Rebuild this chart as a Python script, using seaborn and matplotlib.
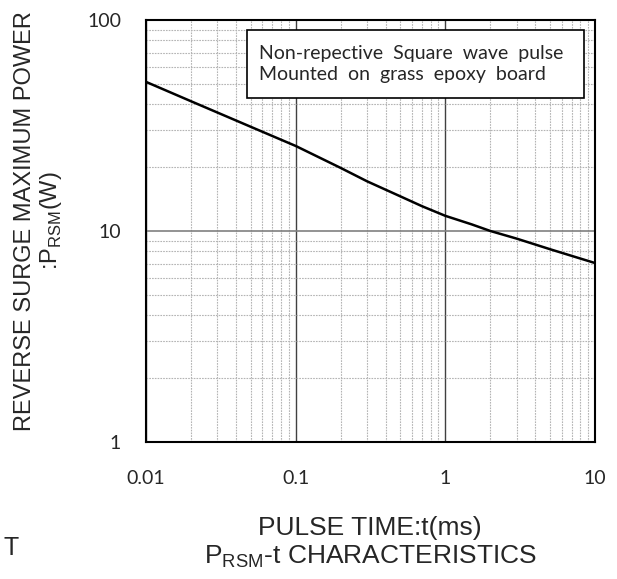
import pandas as pd
import matplotlib.pyplot as plt
import seaborn as sns
import numpy as np
from matplotlib.ticker import LogLocator, NullFormatter, FixedLocator, FixedFormatter
from matplotlib.patches import Rectangle

# curve
pulse_time = [0.01, 0.02, 0.05, 0.1, 0.2, 0.3, 0.5, 0.7, 1, 1.5, 2, 3, 5, 10]
power = [50.9, 41.2, 31.2, 25.3, 19.9, 17.2, 14.6, 13.1, 11.8, 10.75, 10.0, 9.2, 8.2, 7.05]

x_ticks = [0.01, 0.1, 1, 10]
x_labels = ["0.01", "0.1", "1", "10"]
y_ticks = [1, 10, 100]
y_labels = ["1", "10", "100"]

df = pd.DataFrame({"t": pulse_time, "P": power})

sns.set_style("white")
plt.rcParams["font.family"] = ["Liberation Sans", "DejaVu Sans"]

fig = plt.figure(figsize=(6.17, 5.79), dpi=100)
ax = fig.add_axes([146 / 617, 1 - 442 / 579, 449 / 617, 422 / 579])

ax.set_xscale("log")
ax.set_yscale("log")
ax.set_xlim(0.01, 10)
ax.set_ylim(1, 100)

#grid: dotted minor, solid major
ax.xaxis.set_minor_locator(LogLocator(base=10, subs=np.arange(2, 10)))
ax.yaxis.set_minor_locator(LogLocator(base=10, subs=np.arange(2, 10)))
ax.xaxis.set_minor_formatter(NullFormatter())
ax.yaxis.set_minor_formatter(NullFormatter())
ax.grid(which="minor", color="#b4b4b4", linestyle=(0, (1.5, 1)), linewidth=0.8)
ax.grid(which="major", axis="x", color="#404040", linestyle="-", linewidth=1.0)
ax.grid(which="major", axis="y", color="#808080", linestyle="-", linewidth=1.2)
ax.set_axisbelow(True)

sns.lineplot(data=df, x="t", y="P", ax=ax, color="black", linewidth=1.8, zorder=5)
ax.set_xlabel("")
ax.set_ylabel("")

ax.xaxis.set_major_locator(FixedLocator(x_ticks))
ax.xaxis.set_major_formatter(FixedFormatter(x_labels))
ax.yaxis.set_major_locator(FixedLocator(y_ticks))
ax.yaxis.set_major_formatter(FixedFormatter(y_labels))
ax.tick_params(which="both", length=0)
ax.tick_params(axis="x", labelsize=14, pad=20)
ax.tick_params(axis="y", labelsize=14, pad=18)
for lab in ax.get_xticklabels() + ax.get_yticklabels():
    lab.set_family(["Lato", "DejaVu Sans"])

for s in ax.spines.values():
    s.set_color("black")
    s.set_linewidth(1.5)

# axis titles
fig.text(370 / 617, 1 - 543 / 579, "PULSE TIME:t(ms)\nP$_{\\mathregular{RSM}}$-t CHARACTERISTICS",
         fontsize=19, ha="center", va="center", linespacing=1.15)
fig.text(39 / 617, 1 - 221 / 579, "REVERSE SURGE MAXIMUM POWER\n:P$_{\\mathregular{RSM}}$(W)",
         fontsize=17, ha="center", va="center", rotation=90, linespacing=1.15)

# note box
ax.add_patch(Rectangle((0.225, 0.815), 0.7505, 0.161, transform=ax.transAxes,
                       facecolor="white", edgecolor="black", linewidth=1.2, zorder=6))
ax.text(0.252, 0.896,
        "Non-repective  Square  wave  pulse\nMounted  on  grass  epoxy  board",
        transform=ax.transAxes, fontsize=14, family=["Lato", "DejaVu Sans"],
        va="center", ha="left", linespacing=1.3, zorder=7)

fig.text(0.005, 1 - 548 / 579, "T", fontsize=18, va="center")

fig.savefig("out.png", dpi=100)
